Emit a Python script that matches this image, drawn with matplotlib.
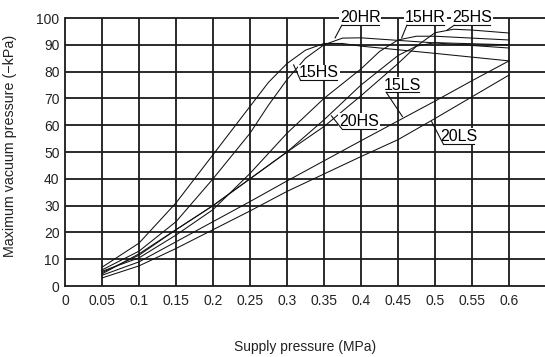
import matplotlib
matplotlib.use("Agg")
import matplotlib.pyplot as plt

plt.rcParams['font.family'] = ['Liberation Sans', 'DejaVu Sans']

# ---- data (supply pressure MPa, max vacuum -kPa) ----
x_15HS = [0.05, 0.1, 0.15, 0.2, 0.25, 0.275, 0.3, 0.325, 0.35, 0.375, 0.4, 0.5, 0.6]
y_15HS = [7, 16, 31, 49, 67, 76, 83, 88, 90.5, 90.5, 89.5, 86.8, 84]

x_20HR = [0.05, 0.1, 0.15, 0.2, 0.25, 0.275, 0.3, 0.325, 0.35, 0.375, 0.4, 0.5, 0.6]
y_20HR = [6, 13, 24, 40, 57, 67.5, 77, 85, 90, 92.5, 92.6, 90.7, 88.8]

x_15HR = [0.05, 0.1, 0.15, 0.2, 0.25, 0.3, 0.35, 0.4, 0.425, 0.45, 0.475, 0.5, 0.55, 0.6]
y_15HR = [5.5, 10.5, 19, 28.5, 42, 57, 70, 81, 87.5, 91.8, 93.2, 93.2, 92.5, 91.8]

x_20HS = [0.05, 0.1, 0.15, 0.2, 0.25, 0.3, 0.35, 0.4, 0.45, 0.475, 0.5, 0.55, 0.6]
y_20HS = [4.5, 12, 21, 30, 40, 50, 62, 75, 86, 89.5, 90.8, 90.4, 90]

x_25HS = [0.05, 0.1, 0.15, 0.2, 0.25, 0.3, 0.35, 0.4, 0.45, 0.475, 0.5, 0.525, 0.55, 0.6]
y_25HS = [5, 11.5, 21, 30, 40, 50, 59.5, 71, 83, 89.5, 94.5, 95.8, 95.5, 94.4]

x_15LS = [0.05, 0.1, 0.15, 0.2, 0.25, 0.3, 0.35, 0.4, 0.45, 0.5, 0.55, 0.6]
y_15LS = [4, 9, 16.5, 24, 31.5, 39.2, 46.7, 54.2, 61.6, 69, 76.6, 84]

x_20LS = [0.05, 0.1, 0.15, 0.2, 0.25, 0.3, 0.35, 0.4, 0.45, 0.5, 0.55, 0.6]
y_20LS = [3, 7.5, 14, 21, 28, 35.3, 41.8, 48.3, 54.6, 62.5, 70.6, 78.7]

x_ticks = [0, 0.05, 0.1, 0.15, 0.2, 0.25, 0.3, 0.35, 0.4, 0.45, 0.5, 0.55, 0.6]
x_tick_labels = ["0", "0.05", "0.1", "0.15", "0.2", "0.25", "0.3", "0.35", "0.4",
                 "0.45", "0.5", "0.55", "0.6"]
y_ticks = [0, 10, 20, 30, 40, 50, 60, 70, 80, 90, 100]

# label: (text, text x, text y, pointer from (x,y), pointer to (x,y))
labels = [
    ("20HR", 0.399, 100.0, 0.374, 97.3, 0.365, 92.6),
    ("15HR", 0.487, 100.0, 0.462, 97.3, 0.455, 92.6),
    ("25HS", 0.550, 100.0, 0.526, 97.3, 0.516, 95.4),
    ("15HS", 0.343, 79.5, 0.318, 76.9, 0.309, 82.5),
    ("15LS", 0.456, 75.0, 0.434, 72.3, 0.456, 63.2),
    ("20HS", 0.397, 61.3, 0.374, 58.7, 0.360, 63.5),
    ("20LS", 0.532, 55.7, 0.511, 53.1, 0.4955, 61.3),
]

fig = plt.figure(figsize=(5.45, 3.57), dpi=100)
ax = fig.add_axes([65 / 545, 1 - 286 / 357, 481 / 545, 268 / 357])

ax.set_xlim(0, 0.65)
ax.set_ylim(0, 100)

# grid
for v in y_ticks[1:]:
    ax.plot([0, 0.65], [v, v], color="#1a1a1a", lw=1.3, zorder=1, clip_on=False,
            solid_capstyle="butt")
for p in x_ticks[1:]:
    ax.plot([p, p], [0, 100], color="#1a1a1a", lw=1.3, zorder=1, clip_on=False,
            solid_capstyle="butt")

for xs, ys in [(x_15HS, y_15HS), (x_20HR, y_20HR), (x_15HR, y_15HR), (x_20HS, y_20HS),
               (x_25HS, y_25HS), (x_15LS, y_15LS), (x_20LS, y_20LS)]:
    ax.plot(xs, ys, color="#111111", lw=0.75, zorder=3, solid_joinstyle="round")

for txt, tx, ty, x0, y0, x1, y1 in labels:
    ax.text(tx, ty, txt, ha="center", va="center", fontsize=11.5,
            family=['Liberation Sans Narrow', 'Liberation Sans', 'DejaVu Sans'],
            zorder=5,
            bbox=dict(facecolor="white", edgecolor="none", pad=0.6))
    ax.plot([x0, x0 + 2 * (tx - x0)], [y0, y0], color="#111111", lw=0.8, zorder=6,
            clip_on=False)
    ax.plot([x0, x1], [y0, y1], color="#111111", lw=0.8, zorder=6)

for s in ["top", "right"]:
    ax.spines[s].set_visible(False)
for s in ["left", "bottom"]:
    ax.spines[s].set_linewidth(1.3)
    ax.spines[s].set_color("#1a1a1a")

ax.set_xticks(x_ticks)
ax.set_xticklabels(x_tick_labels)
ax.set_yticks(y_ticks)
ax.tick_params(length=0, labelsize=10, colors="#222222", pad=4)
ax.tick_params(axis="x", pad=6)

ax.set_xlabel("Supply pressure (MPa)", fontsize=10, color="#222222")
ax.xaxis.set_label_coords((305 - 65) / 481, -(340 - 286) / 268)
ax.set_ylabel("Maximum vacuum pressure (\u2212kPa)", fontsize=10.3, color="#222222")
ax.yaxis.set_label_coords(-(65 - 17) / 481, (286 - 146) / 268)

fig.savefig("out.png", dpi=100)
